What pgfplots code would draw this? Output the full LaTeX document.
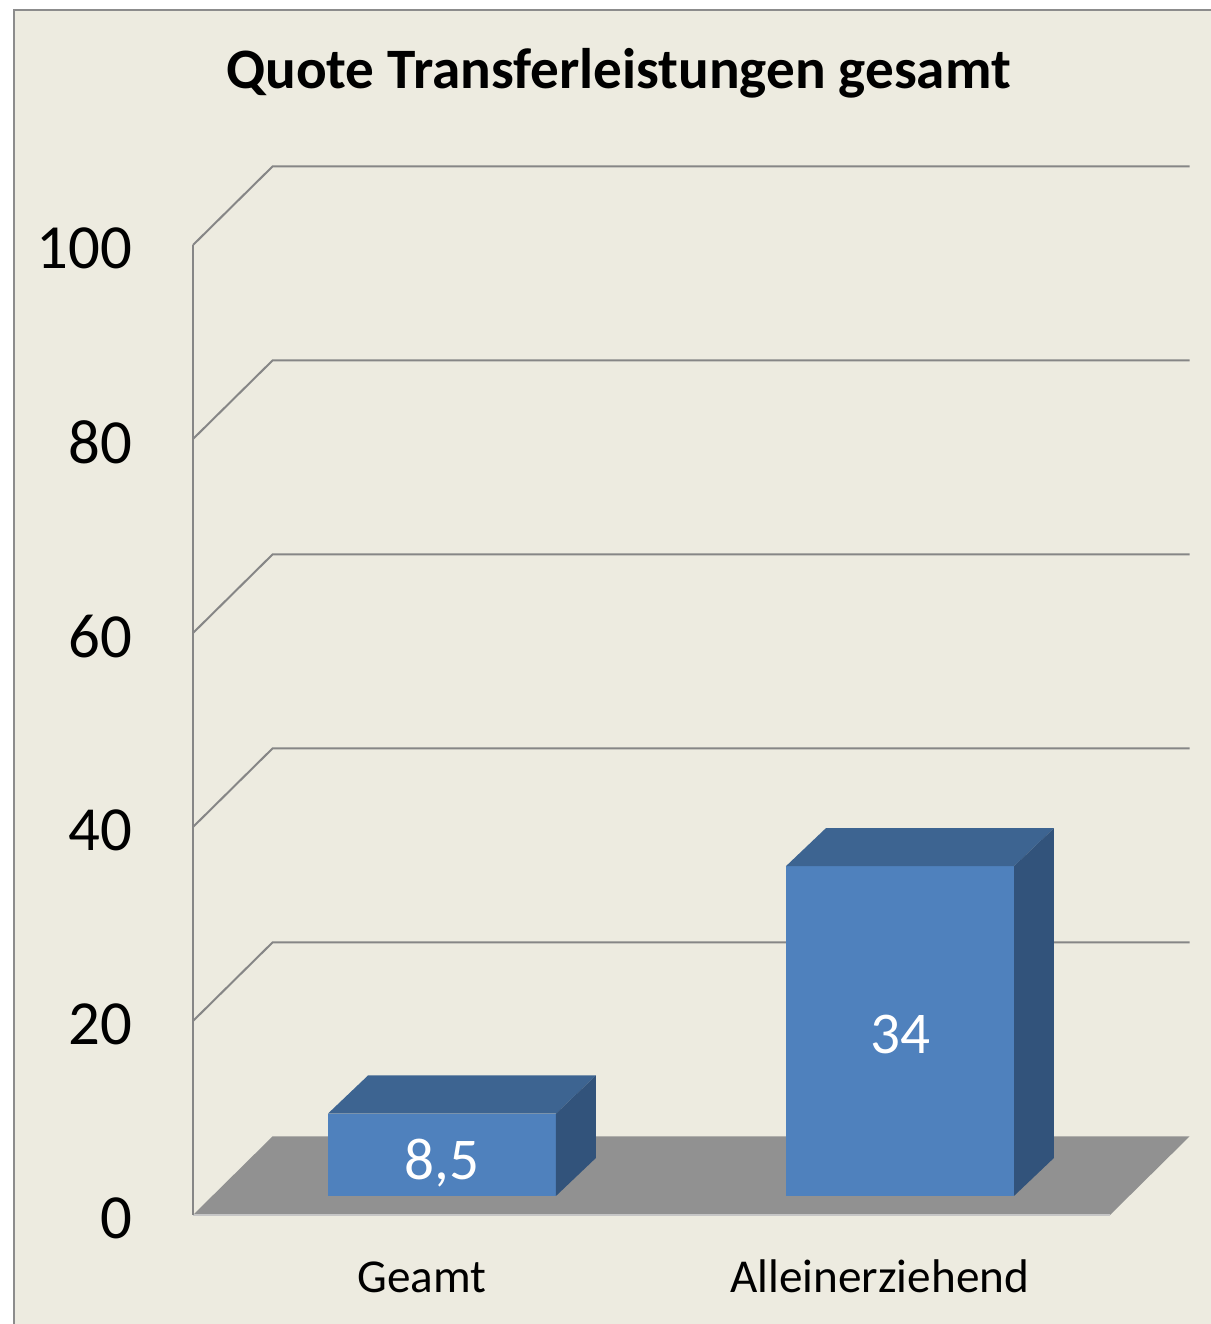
\documentclass[border=0pt]{standalone}
\usepackage{fontspec}
\setmainfont{Carlito}
\usepackage{pgfplots}
\pgfplotsset{compat=1.18}
\definecolor{bg}{RGB}{237,235,224}
\definecolor{frame}{RGB}{140,140,140}
\definecolor{gridc}{RGB}{134,134,134}
\definecolor{floorc}{RGB}{145,145,145}
\definecolor{barfront}{RGB}{79,129,189}
\definecolor{bartop}{RGB}{61,100,145}
\definecolor{barside}{RGB}{50,83,123}
\begin{document}
\begin{tikzpicture}
% background and frame (same units as the axis, whose origin sits at (0,0))
\begin{scope}[x=2.425pt, y=2.425pt]
\fill[white] (-19.9,-11.24) rectangle (104.95,125.26);
\fill[bg] (-18.45,-11.24) rectangle (104.95,124.23);
\draw[frame, line width=0.6pt] (-18.45,-11.24) -- (-18.45,124.23) -- (104.95,124.23);
\end{scope}
\begin{axis}[
  x=2.425pt, y=2.425pt,
  xmin=0, xmax=94.54, ymin=0, ymax=100,
  clip=false,
  axis line style={draw=none},
  major tick length=0pt,
  ytick={0,20,40,60,80,100},
  yticklabel style={font=\fontsize{15.7}{16}\selectfont, anchor=east, inner sep=0pt, xshift=-15pt, yshift=-0.8pt},
  xtick={23.6,70.8},
  xticklabels={Geamt,Alleinerziehend},
  xticklabel style={font=\fontsize{11.8}{13}\selectfont, anchor=base, inner sep=0pt, yshift=-19.5pt},
  /pgf/number format/assume math mode=true,
  title={Quote Transferleistungen gesamt},
  title style={at={(rel axis cs:0.464,1)}, anchor=base, yshift=33.2pt, inner sep=0pt,
    font=\fontsize{14.3}{16}\selectfont\bfseries},
]
% floor
\addplot[fill=floorc, draw=none] coordinates {(0,0) (94.54,0) (102.74,8.1) (8.2,8.1)} -- cycle;
\addplot[gray!45, line width=0.4pt] coordinates {(0,0) (94.54,0)};

% walls / grid
\addplot[gridc, line width=0.5pt] coordinates {(0,0) (0,100)};
\addplot[gridc, line width=0.5pt] coordinates {(0,20) (8.2,28.1) (102.74,28.1)};
\addplot[gridc, line width=0.5pt] coordinates {(0,40) (8.2,48.1) (102.74,48.1)};
\addplot[gridc, line width=0.5pt] coordinates {(0,60) (8.2,68.1) (102.74,68.1)};
\addplot[gridc, line width=0.5pt] coordinates {(0,80) (8.2,88.1) (102.74,88.1)};
\addplot[gridc, line width=0.5pt] coordinates {(0,100) (8.2,108.1) (102.74,108.1)};

% Geamt = 8.5
\addplot[fill=barfront, draw=none] coordinates {(13.92,1.96) (37.42,1.96) (37.42,10.46) (13.92,10.46)} -- cycle;
\addplot[fill=bartop, draw=none] coordinates {(13.92,10.46) (37.42,10.46) (41.54,14.38) (18.04,14.38)} -- cycle;
\addplot[fill=barside, draw=none] coordinates {(37.42,1.96) (41.54,5.88) (41.54,14.38) (37.42,10.46)} -- cycle;

% Alleinerziehend = 34
\addplot[fill=barfront, draw=none] coordinates {(61.13,1.96) (84.64,1.96) (84.64,35.96) (61.13,35.96)} -- cycle;
\addplot[fill=bartop, draw=none] coordinates {(61.13,35.96) (84.64,35.96) (88.76,39.88) (65.25,39.88)} -- cycle;
\addplot[fill=barside, draw=none] coordinates {(84.64,1.96) (88.76,5.88) (88.76,39.88) (84.64,35.96)} -- cycle;

% value labels
\addplot[draw=none, mark=none, nodes near coords, point meta=explicit symbolic,
  nodes near coords align={anchor=base},
  every node near coord/.append style={white, inner sep=0pt, font=\fontsize{14.8}{16}\selectfont}]
  coordinates {(25.67,3.7) [{8,5}] (72.89,16.6) [34]};
\end{axis}
\pgfresetboundingbox
\path[use as bounding box] (-48.26pt,-27.26pt) rectangle (254.5pt,303.76pt);
\end{tikzpicture}
\end{document}
